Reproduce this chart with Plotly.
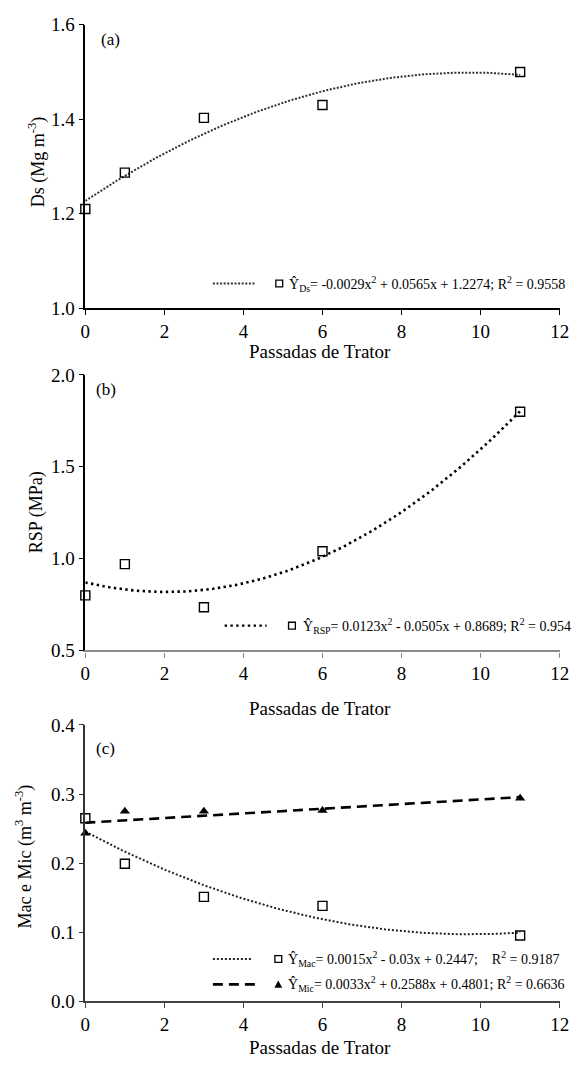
import numpy as np
import plotly.graph_objects as go

# ---- data ----
passes = [0, 1, 3, 6, 11]
ds_values = [1.21, 1.287, 1.403, 1.43, 1.50]
rsp_values = [0.80, 0.97, 0.735, 1.04, 1.80]
mac_values = [0.265, 0.199, 0.151, 0.138, 0.095]
mic_values = [0.243, 0.275, 0.275, 0.276, 0.294]

x_ticks = [0, 2, 4, 6, 8, 10, 12]
panel_labels = ["(a)", "(b)", "(c)"]
y_titles = ["Ds (Mg m<sup>-3</sup>)", "RSP (MPa)", "Mac e Mic (m<sup>3</sup> m<sup>-3</sup>)"]
x_title = "Passadas de Trator"
eq_ds = "Ŷ<sub>Ds</sub>= -0.0029x<sup>2</sup> + 0.0565x + 1.2274; R<sup>2</sup> = 0.9558"
eq_rsp = "Ŷ<sub>RSP</sub>= 0.0123x<sup>2</sup> - 0.0505x + 0.8689; R<sup>2</sup> = 0.954"
eq_mac = "Ŷ<sub>Mac</sub>= 0.0015x<sup>2</sup> - 0.03x + 0.2447;    R<sup>2</sup> = 0.9187"
eq_mic = "Ŷ<sub>Mic</sub>= 0.0033x<sup>2</sup> + 0.2588x + 0.4801; R<sup>2</sup> = 0.6636"

FONT = "Liberation Serif, Times New Roman, serif"
W, H = 584, 1069

def px(xp):
    return xp / W

def py(yp):
    return 1 - yp / H

# fitted trend curves (least squares, as the spreadsheet trendlines)
xs = np.linspace(0, 11, 120)
fit_ds = np.polyval(np.polyfit(passes, ds_values, 2), xs)
fit_rsp = np.polyval(np.polyfit(passes, rsp_values, 2), xs)
fit_mac = np.polyval(np.polyfit(passes, mac_values, 2), xs)
fit_mic = np.polyval(np.polyfit(passes, mic_values, 1), xs)

fig = go.Figure()

sq = dict(symbol="square-open", size=9, color="black", line=dict(width=1.4, color="black"))
tri = dict(symbol="triangle-up", size=9, color="black", line=dict(width=0))

# panel a
fig.add_trace(go.Scatter(x=xs, y=fit_ds, mode="lines", line=dict(color="#333", width=2, dash="2px,1.6px"),
                         xaxis="x", yaxis="y", showlegend=False, hoverinfo="skip"))
fig.add_trace(go.Scatter(x=passes, y=ds_values, mode="markers", marker=sq, cliponaxis=False,
                         xaxis="x", yaxis="y", showlegend=False))
# panel b
fig.add_trace(go.Scatter(x=xs, y=fit_rsp, mode="lines", line=dict(color="black", width=2.6, dash="2.4px,3.4px"),
                         xaxis="x2", yaxis="y2", showlegend=False, hoverinfo="skip"))
fig.add_trace(go.Scatter(x=passes, y=rsp_values, mode="markers", marker=sq, cliponaxis=False,
                         xaxis="x2", yaxis="y2", showlegend=False))
# panel c
fig.add_trace(go.Scatter(x=xs, y=fit_mac, mode="lines", line=dict(color="#222", width=2, dash="2px,2px"),
                         xaxis="x3", yaxis="y3", showlegend=False, hoverinfo="skip"))
fig.add_trace(go.Scatter(x=xs, y=fit_mic, mode="lines", line=dict(color="black", width=2.6, dash="10px,6px"),
                         xaxis="x3", yaxis="y3", showlegend=False, hoverinfo="skip"))
fig.add_trace(go.Scatter(x=passes, y=mac_values, mode="markers", marker=sq, cliponaxis=False,
                         xaxis="x3", yaxis="y3", showlegend=False))
fig.add_trace(go.Scatter(x=passes, y=mic_values, mode="markers", marker=tri, cliponaxis=False,
                         xaxis="x3", yaxis="y3", showlegend=False))

xdom = [px(82.3), px(568.3)]
ydoms = [[py(304.3), py(15)], [py(653.3), py(372.3)], [py(1011), py(729.3)]]
yranges = [[1.0, 1.6], [0.5, 2.0], [0.0, 0.4]]
ydticks = [0.2, 0.5, 0.1]
xline_colors = ["black", "#8a8a8a", "#444"]
xline_widths = [1.6, 2.2, 1.6]
yline_colors = ["black", "black", "#333"]

tickfont = dict(family=FONT, size=19, color="black")
layout = dict(width=W, height=H, margin=dict(l=0, r=0, t=0, b=0),
              plot_bgcolor="white", paper_bgcolor="white", showlegend=False,
              font=dict(family=FONT, color="black"))
for i in range(3):
    sfx = "" if i == 0 else str(i + 1)
    layout["xaxis" + sfx] = dict(domain=xdom, range=[0, 12], tickvals=x_ticks, ticks="outside", ticklen=5,
                                 tickcolor=xline_colors[i], tickwidth=1.3, showline=True,
                                 linecolor=xline_colors[i], linewidth=xline_widths[i], showgrid=False,
                                 zeroline=False, tickfont=tickfont, anchor="y" + sfx, fixedrange=True)
    layout["yaxis" + sfx] = dict(domain=ydoms[i], range=yranges[i], dtick=ydticks[i], tick0=0,
                                 tickformat=".1f", ticks="outside", ticklen=5, tickcolor=yline_colors[i],
                                 tickwidth=1.3, showline=True, linecolor=yline_colors[i], linewidth=1.6,
                                 showgrid=False, zeroline=False, tickfont=tickfont, anchor="x" + sfx,
                                 fixedrange=True)
fig.update_layout(**layout)

ann = []
# panel labels
for lab, (xp, yp) in zip(panel_labels, [(108, 30), (103, 387), (103, 753)]):
    ann.append(dict(text=lab, x=px(xp), y=py(yp), xref="paper", yref="paper", showarrow=False,
                    xanchor="center", yanchor="middle", font=dict(family=FONT, size=17)))
# y titles
for t, (xp, yp) in zip(y_titles, [(33, 155), (33, 512), (20, 864)]):
    ann.append(dict(text=t, x=px(xp), y=py(yp), xref="paper", yref="paper", showarrow=False,
                    textangle=-90, xanchor="center", yanchor="middle", font=dict(family=FONT, size=18)))
# x titles
for yp in [348, 712, 1058]:
    ann.append(dict(text=x_title, x=px(323), y=py(yp), xref="paper", yref="paper", showarrow=False,
                    xanchor="center", yanchor="middle", font=dict(family=FONT, size=19)))
# legend texts
for t, (xp, yp) in zip([eq_ds, eq_rsp, eq_mac, eq_mic], [(289, 279), (303, 628), (288, 968), (288, 994)]):
    ann.append(dict(text=t, x=px(xp), y=py(yp), xref="paper", yref="paper", showarrow=False,
                    xanchor="left", yanchor="middle", font=dict(family=FONT, size=14)))
fig.update_layout(annotations=ann)

shapes = []
def legline(x0, x1, y, color, width, dash):
    shapes.append(dict(type="line", xref="paper", yref="paper", x0=px(x0), x1=px(x1), y0=py(y), y1=py(y),
                       line=dict(color=color, width=width, dash=dash)))
def legsq(xc, yc, s=7):
    shapes.append(dict(type="rect", xref="paper", yref="paper", x0=px(xc - s / 2), x1=px(xc + s / 2),
                       y0=py(yc + s / 2), y1=py(yc - s / 2), line=dict(color="black", width=1.3),
                       fillcolor="white"))
def legtri(xc, yc, s=8):
    path = "M {} {} L {} {} L {} {} Z".format(px(xc - s / 2), py(yc + s * 0.43), px(xc + s / 2),
                                               py(yc + s * 0.43), px(xc), py(yc - s * 0.5))
    shapes.append(dict(type="path", xref="paper", yref="paper", path=path, fillcolor="black",
                       line=dict(width=0)))

legline(213, 256, 279, "#333", 2, "2px,1.6px")
legsq(281, 279)
legline(225, 268, 628, "black", 2.4, "2.4px,3.4px")
legsq(294, 628)
legline(213, 254, 968, "#222", 2, "2px,2px")
legsq(280, 968)
legline(213, 258, 994, "black", 2.8, "10px,6px")
legtri(280, 994)
fig.update_layout(shapes=shapes)

fig.write_html("out.html", config={"displayModeBar": False},
               post_script="document.body.style.margin='0';document.body.style.overflow='hidden';")
